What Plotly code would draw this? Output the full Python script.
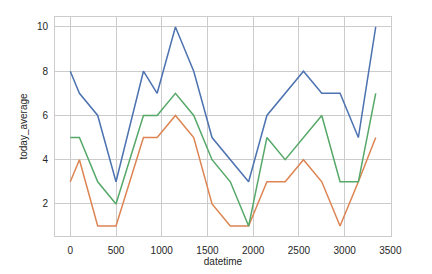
import plotly.graph_objects as go

datetime = [0, 100, 300, 500, 800, 950, 1150, 1350, 1550, 1750, 1950,
            2150, 2350, 2550, 2750, 2950, 3150, 3340]
series_blue = [8, 7, 6, 3, 8, 7, 10, 8, 5, 4, 3, 6, 7, 8, 7, 7, 5, 10]
series_orange = [3, 4, 1, 1, 5, 5, 6, 5, 2, 1, 1, 3, 3, 4, 3, 1, 3, 5]
series_green = [5, 5, 3, 2, 6, 6, 7, 6, 4, 3, 1, 5, 4, 5, 6, 3, 3, 7]
x_ticks = [0, 500, 1000, 1500, 2000, 2500, 3000, 3500]
y_ticks = [2, 4, 6, 8, 10]

fig = go.Figure()
for ys, col in [(series_blue, "#4c72b0"), (series_orange, "#dd8452"), (series_green, "#55a868")]:
    fig.add_trace(go.Scatter(x=datetime, y=ys, mode="lines",
                             line=dict(color=col, width=1.5), showlegend=False))

xmin, xmax = min(datetime), max(datetime)
pad = (xmax - xmin) * 0.05
fig.update_layout(
    width=432, height=274,
    margin=dict(l=55, r=41, t=17, b=38),
    paper_bgcolor="white", plot_bgcolor="white",
    font=dict(family="Liberation Sans, Arial, sans-serif", size=10, color="#262626"),
)
fig.update_xaxes(range=[xmin - pad, xmax + pad], tickvals=x_ticks,
                 showgrid=True, gridcolor="#cccccc", gridwidth=1,
                 showline=True, linecolor="#cccccc", linewidth=1, mirror=True,
                 zeroline=False, ticks="", ticklen=0, ticklabelstandoff=5,
                 automargin=False,
                 title=dict(text="datetime", standoff=2, font=dict(size=10)))
fig.update_yaxes(range=[0.55, 10.45], tickvals=y_ticks,
                 showgrid=True, gridcolor="#cccccc", gridwidth=1,
                 showline=True, linecolor="#cccccc", linewidth=1, mirror=True,
                 zeroline=False, ticks="", ticklen=0, ticklabelstandoff=4,
                 automargin=False,
                 title=dict(text="today_average", standoff=7, font=dict(size=10)))
fig.write_html("out.html")
